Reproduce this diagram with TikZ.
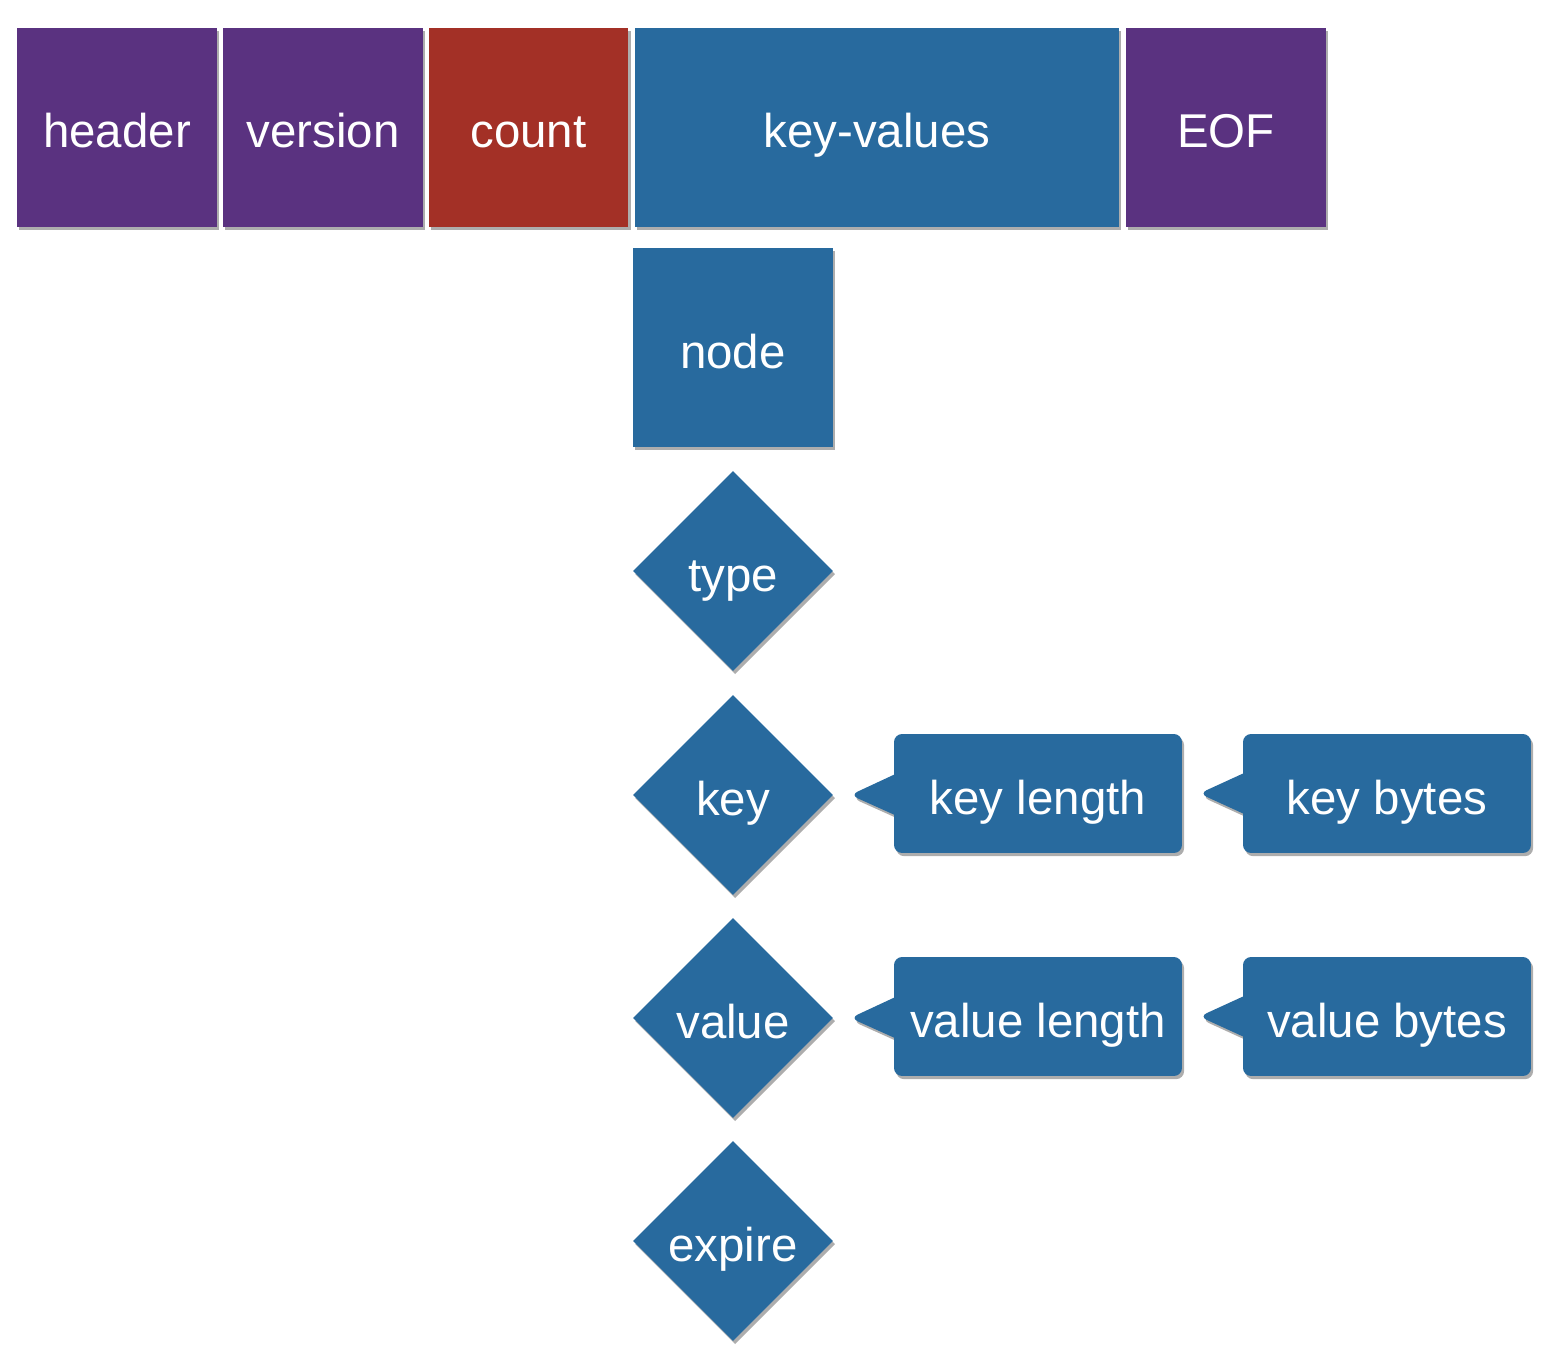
\documentclass[tikz,border=0pt]{standalone}
\usepackage{fontspec}
\setmainfont{Liberation Sans}
\usetikzlibrary{shapes, shapes.callouts, shadows, positioning, calc}
\definecolor{deeppurple}{RGB}{90,50,128}
\definecolor{deepred}{RGB}{163,48,38}
\definecolor{deepblue}{RGB}{40,106,158}

\tikzset{
    field/.style={rectangle, minimum width=4cm, minimum height=3.98cm, inner sep=0pt,
        text=white, font=\fontsize{27}{32}\selectfont, text height=0.82cm, text depth=0pt,
        drop shadow={shadow xshift=1.2pt, shadow yshift=-1.8pt, opacity=0.4, fill=black!80}},
    part/.style={diamond, aspect=1, minimum width=4cm, minimum height=4cm, inner sep=0pt,
        fill=deepblue, text=white, font=\fontsize{27}{32}\selectfont, text height=0.82cm, text depth=0pt,
        drop shadow={shadow xshift=1.2pt, shadow yshift=-1.8pt, opacity=0.4, fill=black!80}},
    bubble/.style={rectangle callout, minimum width=5.76cm, minimum height=2.38cm, inner sep=0pt,
        rounded corners=0.16cm, callout pointer width=0.8cm,
        fill=deepblue, text=white, font=\fontsize{27}{32}\selectfont, text height=0.82cm, text depth=0pt,
        drop shadow={shadow xshift=1.2pt, shadow yshift=-1.8pt, opacity=0.4, fill=black!80}}
}

\begin{document}
\begin{tikzpicture}[x=0.02cm, y=-0.02cm]
    \useasboundingbox (0,0) rectangle (1560,1366);

    % file layout
    \node[field, fill=deeppurple] (header) at (117,127.5) {header};
    \node[field, fill=deeppurple] (version) at (323,127.5) {version};
    \node[field, fill=deepred] (count) at (528.5,127.5) {count};
    \node[field, fill=deepblue, minimum width=9.68cm] (kv) at (877,127.5) {key-values};
    \node[field, fill=deeppurple] (eof) at (1226,127.5) {EOF};

    \node[field, fill=deepblue] (node) at (733,347.5) {node};

    % parts of a node
    \node[part] (type) at (733,571) {type};
    \node[part] (key) at (733,795) {key};
    \node[part] (value) at (733,1018) {value};
    \node[part] (expire) at (733,1241) {expire};

    \node[bubble, callout absolute pointer={([xshift=0.34cm]key.east)}] (keylen) at (1038,793.5) {key length};
    \node[bubble, callout absolute pointer={([xshift=0.34cm]keylen.east)}] (keybytes) at (1387,793.5) {key bytes};
    \node[bubble, callout absolute pointer={([xshift=0.34cm]value.east)}] (vallen) at (1038,1016.5) {value length};
    \node[bubble, callout absolute pointer={([xshift=0.34cm]vallen.east)}] (valbytes) at (1387,1016.5) {value bytes};
\end{tikzpicture}
\end{document}
